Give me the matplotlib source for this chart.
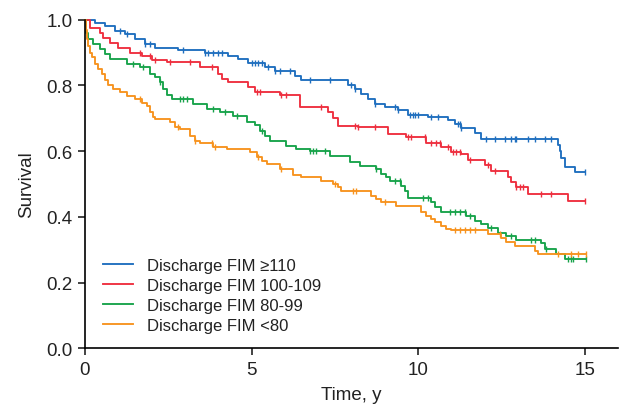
import matplotlib
matplotlib.use('Agg')
import matplotlib.pyplot as plt
import numpy as np

#%% Font and general settings
plt.rcParams['font.family'] = ['Liberation Sans', 'DejaVu Sans']
plt.rcParams['axes.linewidth'] = 1.2

#%% Data (step changes: time in years, survival)

labels = ['Discharge FIM \u2265110', 'Discharge FIM 100-109',
          'Discharge FIM 80-99', 'Discharge FIM <80']
colors = ['#1f6fbf', '#ee2f3f', '#17a34a', '#f7931e']

t_110 = [0, 0.3, 0.6, 0.9, 1.2, 1.5, 1.8, 2.1, 2.8, 3.6, 4.3, 4.6, 4.9, 5.4, 5.7,
         6.3, 6.5, 7.9, 8.1, 8.3, 8.5, 8.7, 9.0, 9.4, 9.7, 10.3, 10.9, 11.1, 11.3,
         11.7, 11.9, 14.2, 14.25, 14.3, 14.4, 14.7, 15.0]
s_110 = [1.0, 0.99, 0.98, 0.965, 0.955, 0.94, 0.925, 0.915, 0.908, 0.90, 0.89, 0.88,
         0.868, 0.855, 0.845, 0.83, 0.815, 0.80, 0.79, 0.775, 0.76, 0.745, 0.735,
         0.725, 0.71, 0.705, 0.695, 0.683, 0.67, 0.655, 0.637, 0.62, 0.60, 0.58,
         0.552, 0.537, 0.537]
c_110 = [1.05, 1.25, 1.8, 1.95, 2.93, 3.6, 3.7, 3.85, 4.0, 4.1, 5.0, 5.1, 5.2, 5.3,
         5.5, 5.7, 5.85, 6.15, 6.75, 7.35, 8.0, 8.1, 8.7, 9.3, 9.4, 9.75, 9.85, 9.9,
         10.0, 10.4, 10.6, 11.2, 11.25, 11.3, 12.05, 12.3, 12.6, 12.8, 12.9, 12.95,
         13.3, 13.5, 13.8, 14.0, 15.0]

t_100 = [0, 0.15, 0.45, 0.55, 0.75, 1.0, 1.35, 1.7, 2.0, 2.45, 3.45, 4.0, 4.1, 4.3,
         4.9, 5.1, 5.85, 6.45, 7.3, 7.45, 7.6, 8.2, 9.1, 9.65, 10.25, 10.7, 11.0,
         11.3, 11.5, 12.0, 12.2, 12.7, 12.8, 12.95, 13.3, 14.5, 15.0]
s_100 = [1.0, 0.975, 0.96, 0.945, 0.93, 0.915, 0.90, 0.89, 0.877, 0.872, 0.856,
         0.835, 0.82, 0.81, 0.795, 0.78, 0.77, 0.734, 0.72, 0.70, 0.677, 0.674,
         0.652, 0.643, 0.625, 0.612, 0.598, 0.59, 0.573, 0.558, 0.541, 0.52, 0.505,
         0.49, 0.469, 0.449, 0.449]
c_100 = [1.65, 1.95, 2.1, 2.55, 3.15, 3.8, 5.15, 5.25, 5.9, 6.05, 7.1, 8.1, 8.2,
         8.7, 9.7, 9.8, 10.2, 10.4, 10.55, 10.65, 10.9, 11.05, 11.15, 11.25, 11.55,
         12.1, 12.3, 12.95, 13.05, 13.15, 13.7, 14.0, 15.0]

t_80 = [0, 0.03, 0.1, 0.25, 0.45, 0.6, 0.75, 1.25, 1.65, 1.95, 2.1, 2.25, 2.35, 2.45,
        2.6, 3.25, 3.65, 4.05, 4.45, 4.85, 5.1, 5.25, 5.4, 5.55, 6.05, 6.35, 6.75,
        7.35, 7.95, 8.25, 8.75, 8.9, 9.05, 9.15, 9.5, 9.6, 9.7, 10.4, 10.5, 10.7,
        11.45, 11.7, 11.9, 12.1, 12.4, 12.65, 12.95, 13.7, 13.8, 14.15, 14.4, 15.05]
s_80 = [1.0, 0.96, 0.94, 0.925, 0.91, 0.895, 0.881, 0.866, 0.857, 0.835, 0.826,
        0.81, 0.79, 0.77, 0.759, 0.744, 0.729, 0.72, 0.707, 0.689, 0.68, 0.66,
        0.646, 0.631, 0.616, 0.607, 0.60, 0.586, 0.567, 0.556, 0.546, 0.53, 0.52,
        0.51, 0.494, 0.48, 0.457, 0.445, 0.43, 0.415, 0.403, 0.387, 0.378, 0.365,
        0.35, 0.342, 0.329, 0.32, 0.302, 0.287, 0.271, 0.271]
c_80 = [1.45, 1.75, 2.25, 2.85, 2.95, 3.05, 3.85, 4.2, 4.55, 5.3, 6.75, 6.85, 6.95,
        7.2, 8.75, 9.3, 9.45, 10.15, 10.3, 10.95, 11.1, 11.25, 11.4, 11.55, 12.2,
        12.8, 13.4, 13.5, 13.85, 14.5, 14.6, 14.65, 15.05]

t_lt80 = [0, 0.02, 0.05, 0.1, 0.15, 0.2, 0.3, 0.4, 0.5, 0.6, 0.7, 0.85, 1.05, 1.25,
          1.5, 1.7, 1.85, 1.95, 2.05, 2.1, 2.55, 2.7, 2.85, 3.15, 3.3, 3.45, 3.85,
          4.25, 4.95, 5.15, 5.3, 5.45, 5.85, 6.25, 6.5, 7.1, 7.45, 7.6, 7.7, 8.6,
          8.75, 8.9, 9.35, 10.1, 10.25, 10.4, 10.5, 10.7, 10.85, 11.0, 12.1, 12.5,
          12.65, 12.9, 13.5, 13.6, 15.05]
s_lt80 = [1.0, 0.97, 0.94, 0.92, 0.90, 0.885, 0.865, 0.85, 0.835, 0.815, 0.80, 0.79,
          0.78, 0.767, 0.759, 0.748, 0.738, 0.72, 0.705, 0.698, 0.689, 0.675, 0.668,
          0.646, 0.631, 0.625, 0.612, 0.607, 0.597, 0.582, 0.57, 0.561, 0.546, 0.527,
          0.52, 0.51, 0.50, 0.49, 0.479, 0.464, 0.454, 0.445, 0.433, 0.415, 0.403,
          0.393, 0.384, 0.372, 0.363, 0.36, 0.348, 0.335, 0.323, 0.311, 0.296,
          0.287, 0.287]
c_lt80 = [1.65, 2.8, 3.3, 3.8, 3.9, 5.2, 5.9, 7.5, 8.05, 8.15, 9.0, 11.1, 11.25,
          11.4, 11.55, 11.7, 12.45, 14.2, 14.6, 14.8, 15.05]

curves = [(t_110, s_110, c_110), (t_100, s_100, c_100),
          (t_80, s_80, c_80), (t_lt80, s_lt80, c_lt80)]

#%% Plot

fig = plt.figure(figsize=(6.24, 4.10), dpi=100)
ax = fig.add_axes([0.1362, 0.148, 0.854, 0.8015])

for (t, s, c), lab, col in zip(curves, labels, colors):
    t = np.array(t)
    s = np.array(s)
    ax.step(t, s, where='post', color=col, linewidth=1.35, label=lab, clip_on=False)
    # censor marks sit on the step curve
    idx = np.searchsorted(t, c, side='right') - 1
    ax.plot(c, s[idx], linestyle='none', marker='|', markersize=5,
            markeredgewidth=1.0, color=col, clip_on=False)

ax.set_xlim(0, 16)
ax.set_ylim(0, 1.0)
ax.set_xticks([0, 5, 10, 15])
ax.set_yticks([0.0, 0.2, 0.4, 0.6, 0.8, 1.0])
ax.set_yticklabels(['0.0', '0.2', '0.4', '0.6', '0.8', '1.0'])
ax.spines['top'].set_visible(False)
ax.spines['right'].set_visible(False)
ax.tick_params(direction='out', length=5, width=1.2, labelsize=13.5,
               colors='#222222', pad=4)
ax.set_xlabel('Time, y', fontsize=13.5, color='#222222', labelpad=6)
ax.set_ylabel('Survival', fontsize=13.5, color='#222222', labelpad=8)

leg = ax.legend(loc='lower left', bbox_to_anchor=(0.006, 0.002), frameon=False,
                fontsize=12, handlelength=1.8, handletextpad=0.85, labelspacing=0.29)
for txt in leg.get_texts():
    txt.set_color('#222222')

plt.savefig('out.png', dpi=100)
plt.close()
